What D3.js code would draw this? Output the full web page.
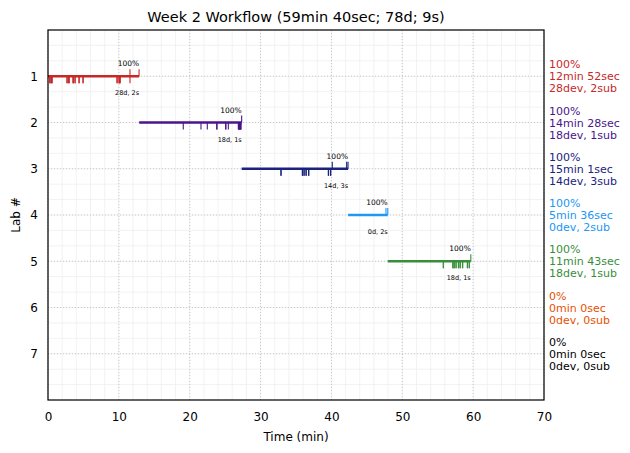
<!DOCTYPE html>
<html>
<head>
<meta charset="utf-8">
<script src="https://cdn.jsdelivr.net/npm/d3@7"></script>
<style>
  body { margin: 0; background: #fff; }
  text { font-family: "DejaVu Sans", sans-serif; }
</style>
</head>
<body>
<svg id="canvas" width="630" height="453"></svg>
<script>
// chart data
let labs = [1, 2, 3, 4, 5, 6, 7]
let labPercent = [100, 100, 100, 100, 100, 0, 0]
let labSeconds = [772, 868, 901, 336, 703, 0, 0]
let labStart = [0, 12.87, 27.33, 42.35, 47.95, 0, 0]
let labColors = ['#c62828', '#4a148c', '#1a237e', '#2196f3', '#388e3c', '#e65100', '#000000']

// dev (down ticks) and sub (up ticks) times, in minutes
let devTimes = [
    [0.25, 0.28, 0.3, 0.5, 0.56, 0.58, 2.68, 2.7, 2.9, 2.96, 2.98, 3.53, 3.55, 3.6, 3.81, 3.83,
     4.37, 4.4, 4.94, 4.96, 9.74, 9.76, 10.02, 10.04, 10.1, 10.16, 10.18, 11.57],
    [19.09, 21.59, 22.48, 23.81, 23.85, 25.08, 25.1, 25.45, 26.86, 26.9, 26.95, 27.0, 27.03,
     27.08, 27.12, 27.16, 27.2, 27.24],
    [32.87, 32.9, 35.89, 35.92, 36.13, 36.15, 36.41, 36.45, 36.79, 36.8, 39.56, 39.6, 39.88, 39.9],
    [],
    [55.79, 55.8, 57.12, 57.15, 57.3, 57.35, 57.58, 57.6, 57.91, 57.95, 58.15, 58.2, 58.5, 58.53,
     59.18, 59.2, 59.45, 59.46],
    [],
    []
]
let subTimes = [
    [11.57, 12.85],
    [27.33],
    [40.12, 42.15, 42.34],
    [47.7, 47.95],
    [59.67],
    [],
    []
]
let xTicks = [0, 10, 20, 30, 40, 50, 60, 70]

let fmtTime = (s) => Math.floor(s / 60) + 'min ' + (s % 60) + 'sec'

let canvas = d3.select('#canvas')
let margin = {left: 48, right: 86, top: 30, bottom: 53}
let width = 630 - margin.left - margin.right
let height = 453 - margin.top - margin.bottom

let xScale = d3.scaleLinear().domain([0, 70]).range([margin.left, margin.left + width])
let yScale = d3.scaleLinear().domain([0, 8]).range([margin.top, margin.top + height])

// minor grid
let grid = canvas.append('g')
grid.selectAll('.vminor')
    .data(d3.range(0, 71, 2))
    .enter().append('line')
    .attr('x1', d => xScale(d)).attr('x2', d => xScale(d))
    .attr('y1', margin.top).attr('y2', margin.top + height)
    .attr('stroke', '#efefef').attr('stroke-width', 0.8)
grid.selectAll('.hminor')
    .data(d3.range(0, 8.01, 1 / 3))
    .enter().append('line')
    .attr('y1', d => yScale(d)).attr('y2', d => yScale(d))
    .attr('x1', margin.left).attr('x2', margin.left + width)
    .attr('stroke', '#efefef').attr('stroke-width', 0.8)

// major grid
grid.selectAll('.vmajor')
    .data(xTicks)
    .enter().append('line')
    .attr('x1', d => xScale(d)).attr('x2', d => xScale(d))
    .attr('y1', margin.top).attr('y2', margin.top + height)
    .attr('stroke', '#bdbdbd').attr('stroke-width', 0.8).attr('stroke-dasharray', '1,2')
grid.selectAll('.hmajor')
    .data(labs)
    .enter().append('line')
    .attr('y1', d => yScale(d)).attr('y2', d => yScale(d))
    .attr('x1', margin.left).attr('x2', margin.left + width)
    .attr('stroke', '#bdbdbd').attr('stroke-width', 0.8).attr('stroke-dasharray', '1,2')

// axes
let xAxis = d3.axisBottom(xScale).tickValues(xTicks).tickSize(0).tickPadding(12)
canvas.append('g')
    .attr('transform', 'translate(0,' + (margin.top + height) + ')')
    .call(xAxis)
    .call(g => g.select('.domain').remove())
    .selectAll('text').attr('font-size', 12).attr('fill', '#000')

let yAxis = d3.axisLeft(yScale).tickValues(labs).tickSize(0).tickPadding(10)
canvas.append('g')
    .attr('transform', 'translate(' + margin.left + ',0)')
    .call(yAxis)
    .call(g => g.select('.domain').remove())
    .selectAll('text').attr('font-size', 12).attr('fill', '#000')

// lab bars
labs.forEach((lab, i) => {
    let color = labColors[i]
    let y = yScale(lab)
    let g = canvas.append('g')
    if (labSeconds[i] > 0) {
        let x0 = labStart[i]
        let x1 = labStart[i] + labSeconds[i] / 60
        g.append('line')
            .attr('x1', xScale(x0)).attr('x2', xScale(x1))
            .attr('y1', y).attr('y2', y)
            .attr('stroke', color).attr('stroke-width', 2.6)
        g.selectAll('.dev')
            .data(devTimes[i])
            .enter().append('line')
            .attr('x1', d => xScale(d)).attr('x2', d => xScale(d))
            .attr('y1', y).attr('y2', y + 7)
            .attr('stroke', color).attr('stroke-width', 1.1)
        g.selectAll('.sub')
            .data(subTimes[i])
            .enter().append('line')
            .attr('x1', d => xScale(d)).attr('x2', d => xScale(d))
            .attr('y1', y).attr('y2', y - 7)
            .attr('stroke', color).attr('stroke-width', 1.1)
        g.append('text')
            .attr('x', xScale(x1)).attr('y', y - 10)
            .attr('text-anchor', 'end').attr('font-size', 7.5).attr('fill', '#000')
            .text(labPercent[i] + '%')
        g.append('text')
            .attr('x', xScale(x1)).attr('y', y + 19)
            .attr('text-anchor', 'end').attr('font-size', 6.5).attr('fill', '#000')
            .text(devTimes[i].length + 'd, ' + subTimes[i].length + 's')
    }
    // right side summary
    let lines = [
        labPercent[i] + '%',
        fmtTime(labSeconds[i]),
        devTimes[i].length + 'dev, ' + subTimes[i].length + 'sub'
    ]
    canvas.append('g').selectAll('text')
        .data(lines)
        .enter().append('text')
        .attr('x', margin.left + width + 5)
        .attr('y', (d, k) => y + (k - 1) * 12 + 4)
        .attr('font-size', 11).attr('fill', color)
        .text(d => d)
})

// frame
canvas.append('rect')
    .attr('x', margin.left).attr('y', margin.top)
    .attr('width', width).attr('height', height)
    .attr('fill', 'none').attr('stroke', '#000').attr('stroke-width', 1.2)

// titles
let totalSec = d3.sum(labSeconds)
let totalDev = d3.sum(devTimes, d => d.length)
let totalSub = d3.sum(subTimes, d => d.length)
canvas.append('text')
    .attr('x', margin.left + width / 2).attr('y', 22)
    .attr('text-anchor', 'middle').attr('font-size', 14.5)
    .text('Week 2 Workflow (' + fmtTime(totalSec) + '; ' + totalDev + 'd; ' + totalSub + 's)')
canvas.append('text')
    .attr('x', margin.left + width / 2).attr('y', 441)
    .attr('text-anchor', 'middle').attr('font-size', 12)
    .text('Time (min)')
canvas.append('text')
    .attr('transform', 'translate(20,' + (margin.top + height / 2) + ') rotate(-90)')
    .attr('text-anchor', 'middle').attr('font-size', 12)
    .text('Lab #')
</script>
</body>
</html>
